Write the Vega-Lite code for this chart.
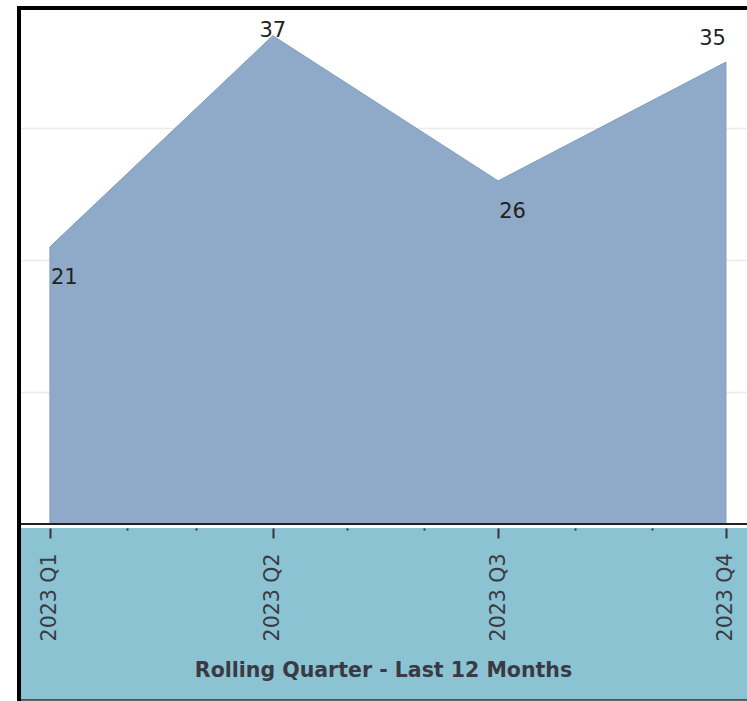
{
  "$schema": "https://vega.github.io/schema/vega-lite/v6.json",
  "width": 728,
  "height": 516,
  "autosize": {"type": "none"},
  "padding": {"left": 19, "top": 8, "right": 0, "bottom": 177},
  "background": "white",
  "config": {"view": {"stroke": null}, "font": "DejaVu Sans"},
  "data": {
    "values": [
      {"quarter": "2023-01-01", "count": 21},
      {"quarter": "2023-04-01", "count": 37},
      {"quarter": "2023-07-01", "count": 26},
      {"quarter": "2023-10-01", "count": 35}
    ]
  },
  "layer": [
    {
      "data": {"values": [{}]},
      "mark": {"type": "rect", "fill": "#8cc3d3", "clip": false},
      "encoding": {
        "y": {"datum": -0.3, "type": "quantitative"},
        "y2": {"datum": -13.33}
      }
    },
    {
      "mark": {"type": "area", "fill": "#8fa9c8", "stroke": "#7f9cc0", "strokeWidth": 1},
      "encoding": {
        "x": {
          "field": "quarter",
          "type": "temporal",
          "scale": {
            "type": "utc",
            "domain": [
              {"year": 2022, "month": 12, "date": 19, "hours": 12, "utc": true},
              {"year": 2023, "month": 10, "date": 9, "hours": 12, "utc": true}
            ]
          },
          "axis": {
            "title": "Rolling Quarter - Last 12 Months",
            "tickCount": {"interval": "month", "step": 1},
            "labelExpr": "utcmonth(datum.value) % 3 == 0 ? utcyear(datum.value) + ' Q' + (floor(utcmonth(datum.value) / 3) + 1) : ''",
            "labelAngle": -90,
            "labelAlign": "right",
            "labelBaseline": "middle",
            "labelFont": "DejaVu Sans",
            "labelFontSize": 20.5,
            "labelColor": "#3a3a44",
            "labelOverlap": false,
            "labelFlush": false,
            "labelBound": false,
            "labelPadding": 15,
            "tickSize": {"condition": {"test": "utcmonth(datum.value) % 3 == 0", "value": 10}, "value": 2},
            "tickWidth": 2,
            "tickColor": "#333333",
            "domain": false,
            "grid": false,
            "offset": 4,
            "titleFont": "DejaVu Sans",
            "titleFontSize": 20.5,
            "titleFontWeight": "bold",
            "titleColor": "#3a3a44",
            "titlePadding": 20,
            "zindex": 1
          }
        },
        "y": {
          "field": "count",
          "type": "quantitative",
          "scale": {"domain": [0, 39.1], "nice": false, "zero": true},
          "axis": {
            "title": null,
            "labels": false,
            "ticks": false,
            "domain": false,
            "grid": true,
            "values": [10, 20, 30],
            "gridColor": "#ebebeb",
            "gridWidth": 1.5
          }
        }
      }
    },
    {
      "transform": [{"filter": {"field": "count", "oneOf": [21, 26]}}],
      "mark": {"type": "text", "align": "left", "baseline": "middle", "dx": 1, "dy": 31, "fontSize": 21, "font": "DejaVu Sans", "color": "#222222"},
      "encoding": {
        "x": {"field": "quarter", "type": "temporal"},
        "y": {"field": "count", "type": "quantitative"},
        "text": {"field": "count", "type": "quantitative"}
      }
    },
    {
      "transform": [{"filter": {"field": "count", "equal": 37}}],
      "mark": {"type": "text", "align": "center", "baseline": "middle", "dy": -5, "fontSize": 21, "font": "DejaVu Sans", "color": "#222222"},
      "encoding": {
        "x": {"field": "quarter", "type": "temporal"},
        "y": {"field": "count", "type": "quantitative"},
        "text": {"field": "count", "type": "quantitative"}
      }
    },
    {
      "transform": [{"filter": {"field": "count", "equal": 35}}],
      "mark": {"type": "text", "align": "right", "baseline": "middle", "dy": -23, "fontSize": 21, "font": "DejaVu Sans", "color": "#222222"},
      "encoding": {
        "x": {"field": "quarter", "type": "temporal"},
        "y": {"field": "count", "type": "quantitative"},
        "text": {"field": "count", "type": "quantitative"}
      }
    },
    {
      "data": {"values": [{}]},
      "mark": {"type": "rule", "color": "#222222", "strokeWidth": 2, "clip": false},
      "encoding": {"y": {"datum": 0, "type": "quantitative"}}
    },
    {
      "data": {"values": [{}]},
      "mark": {"type": "rule", "color": "#333333", "strokeWidth": 1.5, "clip": false},
      "encoding": {"y": {"datum": -13.33, "type": "quantitative"}}
    },
    {
      "data": {"values": [{}]},
      "mark": {"type": "rule", "color": "black", "strokeWidth": 4, "clip": false},
      "encoding": {"y": {"datum": 39.1, "type": "quantitative"}}
    },
    {
      "data": {"values": [{}]},
      "mark": {"type": "rule", "color": "black", "strokeWidth": 4, "strokeCap": "square", "clip": false},
      "encoding": {
        "x": {"datum": {"year": 2022, "month": 12, "date": 19, "hours": 12, "utc": true}, "type": "temporal"},
        "y": {"datum": 39.1, "type": "quantitative"},
        "y2": {"datum": -13.33}
      }
    }
  ]
}
